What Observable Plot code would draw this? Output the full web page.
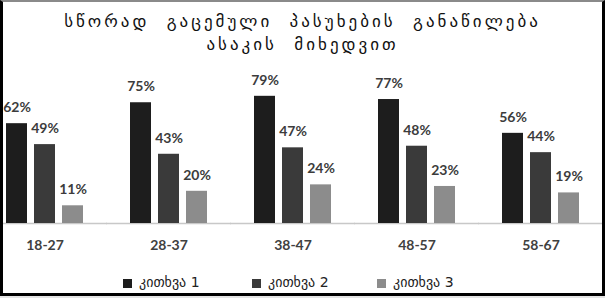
<!DOCTYPE html>
<html><head><meta charset="utf-8">
<script src="https://cdn.jsdelivr.net/npm/d3@7"></script>
<script src="https://cdn.jsdelivr.net/npm/@observablehq/plot@0.6"></script>
<style>
html,body{margin:0;padding:0;background:#e4e4e4;}
#frame{position:relative;width:605px;height:296px;box-sizing:border-box;background:#fff;border-left:3px solid #000;border-right:3px solid #000;border-bottom:3px solid #000;border-top:2px solid #8a8a8a;overflow:hidden;}
#title{font-family:"DejaVu Sans";font-size:17px;line-height:23px;text-align:center;color:#111;padding-top:8px;height:46px;letter-spacing:3px;word-spacing:9px;white-space:nowrap;}
#chart svg{display:block;overflow:hidden;}
#chart svg g[aria-label^="fx-axis"] text{font-weight:bold;}
#legend{position:relative;height:30px;font-family:"DejaVu Sans";font-size:14px;color:#222;}
#legend .item{position:absolute;top:16px;line-height:20px;white-space:nowrap;}
#legend .sw{display:inline-block;width:9px;height:9px;margin-right:7px;vertical-align:-1px;}
</style></head>
<body>
<div id="frame">
  <div id="title">სწორად გაცემული პასუხების განაწილება<br>ასაკის მიხედვით</div>
  <div id="chart"></div>
  <div id="legend"></div>
</div>
<script>
const ages = ["18-27", "28-37", "38-47", "48-57", "58-67"];
const series = ["კითხვა 1", "კითხვა 2", "კითხვა 3"];
const q1 = [62, 75, 79, 77, 56];
const q2 = [49, 43, 47, 48, 44];
const q3 = [11, 20, 24, 23, 19];
const colors = ["#1d1d1d", "#3a3a3a", "#8c8c8c"];

const values = [q1, q2, q3];
const data = [];
ages.forEach((age, i) => series.forEach((s, j) => data.push({age, series: s, value: values[j][i]})));

const plot = Plot.plot({
  width: 599,
  height: 200,
  marginLeft: 2,
  marginRight: 22,
  marginTop: 6,
  marginBottom: 33,
  fx: {domain: ages, paddingInner: 0.3815, paddingOuter: 0, label: null, axis: "bottom", tickSize: 0, tickPadding: 17},
  x: {domain: series, paddingInner: 0.25, paddingOuter: 0, axis: null},
  y: {domain: [0, 100], axis: null},
  color: {domain: series, range: colors},
  style: {fontFamily: "Lato", fontSize: "14px", color: "#404040", background: "transparent"},
  marks: [
    Plot.ruleY([0], {stroke: "#c8c8c8", strokeWidth: 1.5, insetLeft: -24, insetRight: -24}),
    Plot.barY(data, {fx: "age", x: "series", y: "value", fill: "series"}),
    Plot.text(data, {fx: "age", x: "series", y: "value", text: d => d.value + "%", dy: -16, fill: "#3c3c3c", fontWeight: "bold"})
  ]
});
document.getElementById("chart").appendChild(plot);

const legend = document.getElementById("legend");
const lefts = [120, 249, 374];
series.forEach((s, j) => {
  const item = document.createElement("div");
  item.className = "item";
  item.style.left = lefts[j] + "px";
  const sw = document.createElement("span");
  sw.className = "sw";
  sw.style.background = colors[j];
  item.appendChild(sw);
  item.appendChild(document.createTextNode(s));
  legend.appendChild(item);
});
</script>
</body></html>
